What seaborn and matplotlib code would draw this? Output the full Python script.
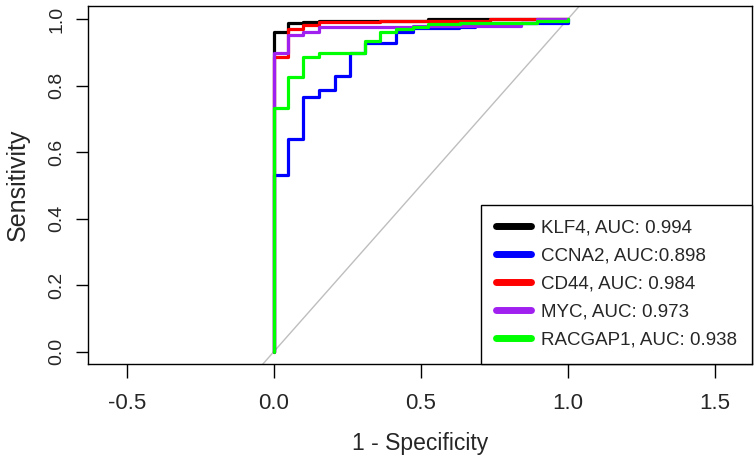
import numpy as np
import pandas as pd
import matplotlib
matplotlib.use("Agg")
import matplotlib.pyplot as plt
import seaborn as sns

# ROC step corners (1 - specificity, sensitivity)
genes = ["KLF4", "CCNA2", "CD44", "MYC", "RACGAP1"]
legend_labels = ["KLF4, AUC: 0.994", "CCNA2, AUC:0.898", "CD44, AUC: 0.984",
                 "MYC, AUC: 0.973", "RACGAP1, AUC: 0.938"]
colors = ["#000000", "#0000FF", "#FF0000", "#A020F0", "#00FF00"]

klf4_fpr = [0, 0, 0.05, 0.10, 0.155, 0.525, 1.0]
klf4_tpr = [0, 0.963, 0.990, 0.993, 0.996, 1.0, 1.0]

ccna2_fpr = [0, 0, 0.05, 0.10, 0.155, 0.21, 0.26, 0.31, 0.415, 0.475, 0.63, 0.685, 0.84, 1.0]
ccna2_tpr = [0, 0.532, 0.639, 0.767, 0.787, 0.829, 0.898, 0.930, 0.963, 0.975, 0.978, 0.983, 0.990, 1.0]

cd44_fpr = [0, 0, 0.05, 0.10, 0.155, 0.36, 0.735, 1.0]
cd44_tpr = [0, 0.888, 0.970, 0.983, 0.993, 0.996, 1.0, 1.0]

myc_fpr = [0, 0, 0.05, 0.10, 0.155, 0.475, 0.84, 0.895, 1.0]
myc_tpr = [0, 0.898, 0.953, 0.963, 0.976, 0.980, 0.990, 1.0, 1.0]

racgap1_fpr = [0, 0, 0.05, 0.10, 0.155, 0.31, 0.36, 0.415, 0.475, 0.525, 0.634, 0.895, 1.0]
racgap1_tpr = [0, 0.732, 0.827, 0.888, 0.898, 0.935, 0.963, 0.970, 0.978, 0.985, 0.990, 0.996, 1.0]

x_ticks = [-0.5, 0.0, 0.5, 1.0, 1.5]
x_ticklabels = ["-0.5", "0.0", "0.5", "1.0", "1.5"]
y_ticks = [0.0, 0.2, 0.4, 0.6, 0.8, 1.0]
y_ticklabels = ["0.0", "0.2", "0.4", "0.6", "0.8", "1.0"]


def main():
    sns.set_style("white")
    plt.rcParams["font.family"] = ["Liberation Sans", "DejaVu Sans"]
    plt.rcParams["axes.unicode_minus"] = False

    fprs = [klf4_fpr, ccna2_fpr, cd44_fpr, myc_fpr, racgap1_fpr]
    tprs = [klf4_tpr, ccna2_tpr, cd44_tpr, myc_tpr, racgap1_tpr]
    frames = []
    for lab, f, t in zip(legend_labels, fprs, tprs):
        frames.append(pd.DataFrame({"fpr": f, "tpr": t, "gene": lab}))
    df = pd.concat(frames, ignore_index=True)

    fig = plt.figure(figsize=(7.56, 4.67), dpi=100)
    ax = fig.add_axes([0.1168, 0.2212, 0.9943 - 0.1168, 0.9878 - 0.2212])

    xlim = (-0.631, 1.626)
    ylim = (-0.036, 1.041)

    # chance diagonal
    ax.plot([-1, 2], [-1, 2], color="#BEBEBE", lw=1.0, zorder=1)

    sns.lineplot(data=df, x="fpr", y="tpr", hue="gene", hue_order=legend_labels,
                 palette=colors, sort=False, estimator=None, drawstyle="steps-post",
                 lw=2.3, ax=ax, zorder=2)

    ax.set_xlim(xlim)
    ax.set_ylim(ylim)
    ax.set_xticks(x_ticks)
    ax.set_xticklabels(x_ticklabels, fontsize=16)
    ax.set_yticks(y_ticks)
    ax.set_yticklabels(y_ticklabels, rotation=90, va="center", fontsize=14)
    ax.tick_params(axis="x", length=10, width=1, color="black", pad=11,
                   direction="out", bottom=True)
    ax.tick_params(axis="y", length=8.7, width=1, color="black", pad=8,
                   direction="out", left=True)
    for s in ax.spines.values():
        s.set_color("black")
        s.set_linewidth(1.0)

    ax.set_xlabel("1 - Specificity", fontsize=16.5, labelpad=13)
    ax.set_ylabel("Sensitivity", fontsize=18, labelpad=13)

    handles, labels = ax.get_legend_handles_labels()
    leg = ax.legend(handles, labels, loc="lower right", bbox_to_anchor=(1.0, 0.0),
                    borderaxespad=0, fontsize=13.5,
                    frameon=True, fancybox=False, edgecolor="black", framealpha=1,
                    handlelength=1.87, handletextpad=0.53,
                    labelspacing=0.58, borderpad=0.8)
    leg.get_frame().set_linewidth(1.0)
    for line in leg.get_lines():
        line.set_linewidth(5)
        line.set_solid_capstyle("round")

    fig.savefig("out.png", dpi=100)


if __name__ == "__main__":
    main()
